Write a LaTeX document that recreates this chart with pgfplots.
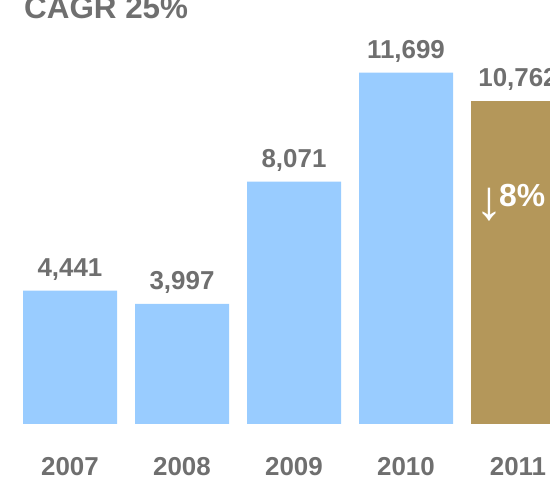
\documentclass[border=0pt]{standalone}
\usepackage{pgfplots}
\pgfplotsset{compat=1.18}
\usepackage{fontspec}
\setmainfont{Liberation Sans}
\definecolor{barblue}{HTML}{99CCFF}
\definecolor{bargold}{HTML}{B4975A}
\definecolor{txtgray}{HTML}{6F6F6F}

\begin{document}
\begin{tikzpicture}
\begin{axis}[
    at={(0,55bp)}, anchor=south west,
    scale only axis,
    width=550bp, height=424bp,
    xmin=-0.625, xmax=4.2857,
    ymin=0, ymax=14120,
    ybar, bar width=94bp,
    axis line style={draw=none},
    major tick length=0pt,
    ytick=\empty,
    xtick={0,1,2,3,4},
    xticklabels={2007,2008,2009,2010,2011},
    xticklabel style={anchor=base, yshift=-51bp, text=txtgray,
        font=\fontsize{26}{26}\selectfont\bfseries},
    /pgf/number format/assume math mode=true,
    nodes near coords={\pgfmathprintnumber[1000 sep={,}]{\pgfplotspointmeta}},
    every node near coord/.append style={anchor=base, yshift=14.5bp,
        text=txtgray, font=\fontsize{26}{26}\selectfont\bfseries},
]
% 2007-2010
\addplot[fill=barblue, draw=none, bar shift=0pt]
    coordinates {(0,4441) (1,3997) (2,8071) (3,11699)};
% 2011
\addplot[fill=bargold, draw=none, bar shift=0pt]
    coordinates {(4,10762)};
\end{axis}
\node[anchor=base west, inner sep=0, text=txtgray,
      font=\fontsize{31.5}{31.5}\selectfont\bfseries] at (24bp,460bp) {CAGR 25\%};
\node[anchor=base west, inner sep=0, text=white,
      font=\fontsize{56}{56}\selectfont] at (475bp,259bp) {↓};
\node[anchor=base west, inner sep=0, text=white,
      font=\fontsize{32}{32}\selectfont\bfseries] at (499bp,272bp) {8\%};
\pgfresetboundingbox
\useasboundingbox (0,0) rectangle (550bp,479bp);
\end{tikzpicture}
\end{document}
